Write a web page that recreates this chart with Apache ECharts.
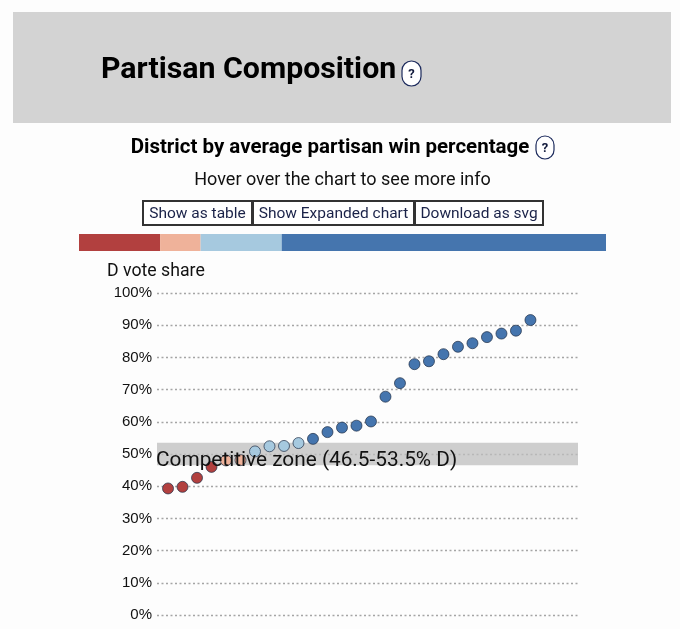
<!DOCTYPE html>
<html><head><meta charset="utf-8">
<style>html,body{margin:0;padding:0;background:#fdfdfd}#c{width:680px;height:629px}</style>
<script src="https://cdn.jsdelivr.net/npm/echarts@6/dist/echarts.min.js"></script>
</head><body><div id="c"></div>
<script>
const voteShare = [39.3,39.8,42.6,46,48,48.1,50.8,52.4,52.5,53.4,54.7,56.8,58.2,58.8,60.1,67.8,72,77.9,78.8,81,83.3,84.4,86.3,87.4,88.3,91.6];
const bandNames = ['Safe R','Lean R','Lean D','Safe D'];
const bandCounts = [4,2,4,16];
const bandColors = ['#b2403f','#efb29a','#a6c9df','#4575ae'];
const yTicks = [0,10,20,30,40,50,60,70,80,90,100];
const zone = [46.5,53.5];
const buttons = ['Show as table','Show Expanded chart','Download as svg'];

const UI = 'Roboto, sans-serif';
const pointColor = i => { let s = 0; for (let b = 0; b < bandCounts.length; b++) { s += bandCounts[b]; if (i < s) return bandColors[b]; } };

const helpIcon = (x,y,w,h) => ({type:'group',children:[
  {type:'rect',shape:{x,y,width:w,height:h,r:h/2.4},style:{fill:'#fff',stroke:'#1c2a5c',lineWidth:1.2}},
  {type:'text',style:{x:x+w/2,y:y+h/2+1,text:'?',fill:'#111a3c',font:'bold 13px '+UI,align:'center',verticalAlign:'middle'}}
]});
const btnX = [[143,252],[253,414],[415,543]];
const buttonEls = buttons.map((t,i)=>({type:'group',children:[
  {type:'rect',shape:{x:btnX[i][0],y:201,width:btnX[i][1]-btnX[i][0],height:24},style:{fill:'#fff',stroke:'#333',lineWidth:2}},
  {type:'text',style:{x:(btnX[i][0]+btnX[i][1])/2,y:214,text:t,fill:'#1a2248',font:'15.5px '+UI,align:'center',verticalAlign:'middle'}}
]}));

const chart = echarts.init(document.getElementById('c'),null,{renderer:'canvas'});
chart.setOption({
  animation:false,
  backgroundColor:'#fdfdfd',
  grid:[
    {left:157,right:102,top:293,height:322,containLabel:false},
    {left:79,top:234,width:527,height:17}
  ],
  xAxis:[
    {type:'value',gridIndex:0,min:0.24,max:29.28,show:false},
    {type:'value',gridIndex:1,min:0,max:26,show:false}
  ],
  yAxis:[
    {type:'value',gridIndex:0,min:0,max:100,interval:10,
     axisLine:{show:false},axisTick:{show:false},
     axisLabel:{formatter:v=>yTicks.includes(v)?v+'%':'',color:'#111',fontSize:15,fontFamily:'"Liberation Sans", sans-serif',margin:5,padding:[6,0,0,0]},
     splitLine:{show:true,lineStyle:{type:[2,2.5],color:'#a5a5a5',width:1.3}}},
    {type:'category',gridIndex:1,data:['bar'],show:false}
  ],
  series:[
    ...bandCounts.map((c,i)=>({
      type:'bar',name:bandNames[i],xAxisIndex:1,yAxisIndex:1,stack:'b',barWidth:17,
      data:[c],itemStyle:{color:bandColors[i]}
    })),
    {type:'scatter',name:'zoneFill',xAxisIndex:0,yAxisIndex:0,data:[],
     markArea:{silent:true,z:1,itemStyle:{color:'rgba(190,190,190,0.75)'},
       data:[[{xAxis:0.24,yAxis:zone[0]},{xAxis:29.28,yAxis:zone[1]}]]}},
    {type:'scatter',name:'D vote share',xAxisIndex:0,yAxisIndex:0,z:5,symbolSize:11,
     data:voteShare.map((v,i)=>({value:[i+1,v],itemStyle:{color:pointColor(i)}})),
     itemStyle:{borderColor:'rgba(30,45,70,0.7)',borderWidth:1,opacity:1}},
    {type:'scatter',name:'zoneLabel',xAxisIndex:0,yAxisIndex:0,data:[],
     markArea:{silent:true,z:10,itemStyle:{color:'rgba(0,0,0,0)'},
       label:{show:true,position:'insideLeft',distance:0,offset:[-1,7],formatter:'Competitive zone (46.5-53.5% D)',color:'#111',fontSize:20.8,fontFamily:UI},
       data:[[{xAxis:0.24,yAxis:zone[0]},{xAxis:29.28,yAxis:zone[1]}]]}}
  ],
  graphic:[
    {type:'rect',shape:{x:13,y:12,width:658,height:111},style:{fill:'#d3d3d3'},z:-1},
    {type:'text',style:{x:101,y:70,text:'Partisan Composition',fill:'#000',font:'bold 30.3px '+UI,verticalAlign:'middle'}},
    helpIcon(402,61,19,25),
    {type:'text',style:{x:330,y:147.5,text:'District by average partisan win percentage',fill:'#000',font:'bold 20.5px '+UI,align:'center',verticalAlign:'middle'}},
    helpIcon(536,136,18,23),
    {type:'text',style:{x:342.5,y:180,text:'Hover over the chart to see more info',fill:'#111',font:'18px '+UI,align:'center',verticalAlign:'middle'}},
    ...buttonEls,
    {type:'text',style:{x:107,y:272,text:'D vote share',fill:'#111',font:'17.7px '+UI,verticalAlign:'middle'}}
  ]
});
</script></body></html>
